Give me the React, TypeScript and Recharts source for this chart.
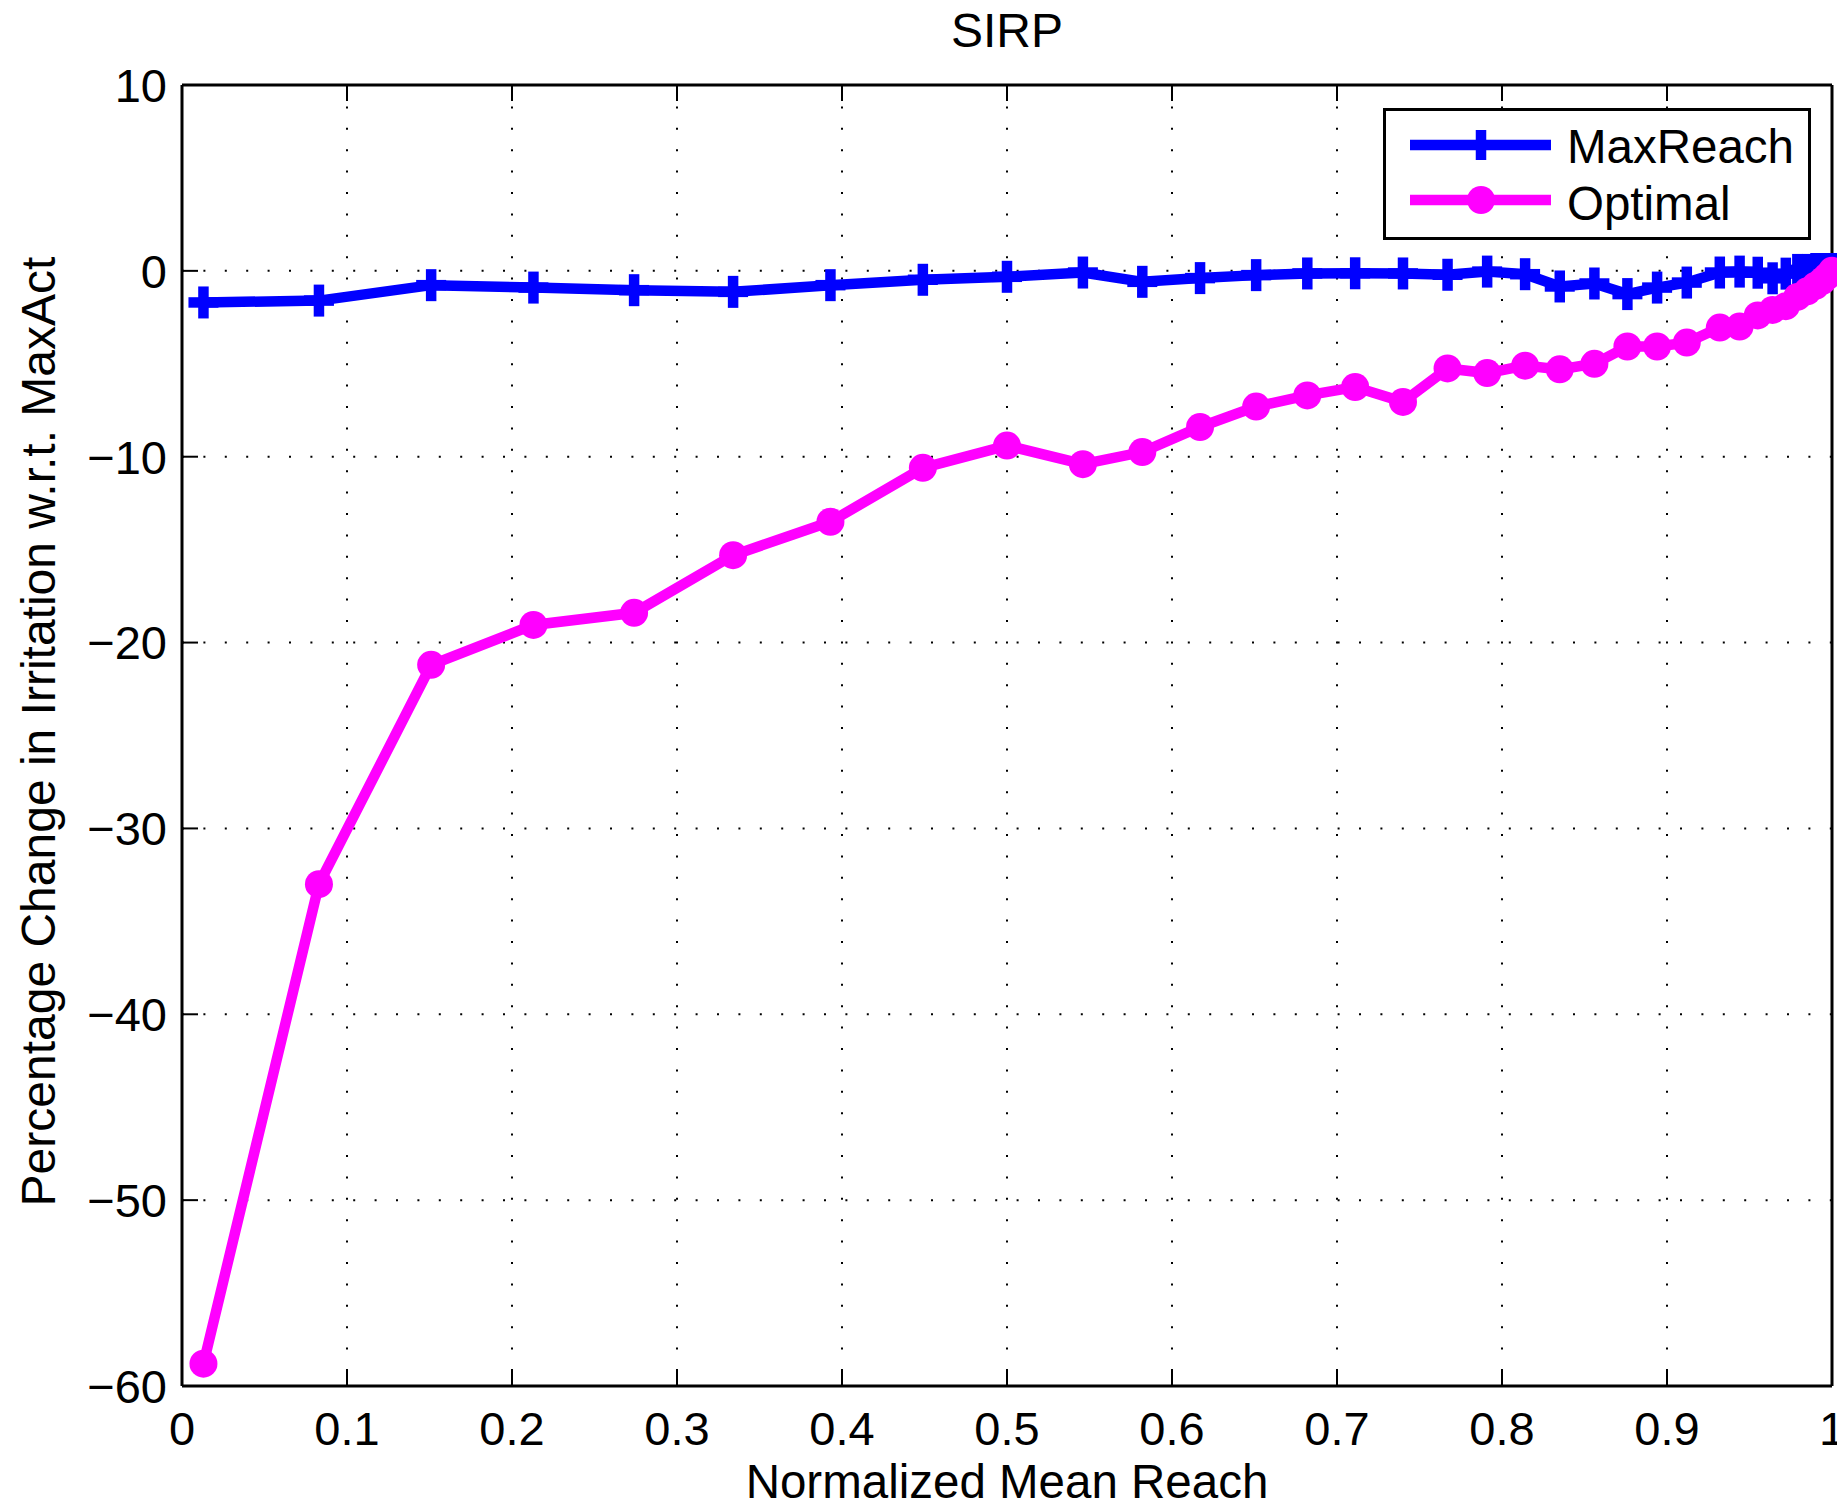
import React from 'react';
import { LineChart, Line, XAxis, YAxis, CartesianGrid, Legend } from 'recharts';

// normalized mean reach (shared by both series)
const reach = [
  0.013, 0.083, 0.151, 0.213, 0.274, 0.334, 0.393, 0.449, 0.5, 0.546,
  0.582, 0.617, 0.651, 0.682, 0.711, 0.74, 0.767, 0.791, 0.814, 0.835,
  0.856, 0.876, 0.894, 0.912, 0.932, 0.944, 0.955, 0.964, 0.972, 0.979,
  0.985, 0.99, 0.994, 0.997, 1.0,
];

const maxReach = [
  -1.7, -1.6, -0.77, -0.9, -1.04, -1.13, -0.77, -0.48, -0.32, -0.09,
  -0.59, -0.39, -0.23, -0.14, -0.13, -0.14, -0.21, -0.04, -0.18, -0.84,
  -0.68, -1.25, -0.9, -0.63, -0.09, -0.04, -0.1, -0.4, -0.15, 0.05,
  0.05, 0.1, 0.1, 0.1, 0.1,
];

const optimal = [
  -58.8, -33.0, -21.2, -19.05, -18.4, -15.3, -13.5, -10.6, -9.4, -10.4,
  -9.75, -8.4, -7.3, -6.7, -6.25, -7.05, -5.25, -5.5, -5.1, -5.3,
  -5.0, -4.07, -4.07, -3.86, -3.05, -3.0, -2.4, -2.1, -1.9, -1.4,
  -1.1, -0.8, -0.55, -0.3, 0.0,
];

const xTicks = [0, 0.1, 0.2, 0.3, 0.4, 0.5, 0.6, 0.7, 0.8, 0.9, 1];
const yTicks = [-60, -50, -40, -30, -20, -10, 0, 10];

const rows = reach.map((x, i) => ({ x, maxReach: maxReach[i], optimal: optimal[i] }));

const FONT = '"Liberation Sans", Arial, Helvetica, sans-serif';
const BLUE = '#0000ff';
const MAGENTA = '#ff00ff';
const fmt = (v: number) => String(v).replace('-', '\u2212');

const BottomTick = (props: any) => {
  const { x, y, payload } = props;
  return (
    <g>
      <line x1={x} x2={x} y1={y} y2={y - 16} stroke="#000" strokeWidth={2} />
      <text x={x} y={y + 59} textAnchor="middle" fontSize={47} fontFamily={FONT} fill="#000">
        {fmt(payload.value)}
      </text>
    </g>
  );
};

const TopTick = (props: any) => {
  const { x, y } = props;
  return <line x1={x} x2={x} y1={y} y2={y + 16} stroke="#000" strokeWidth={2} />;
};

const LeftTick = (props: any) => {
  const { x, y, payload } = props;
  return (
    <g>
      <line x1={x} x2={x + 16} y1={y} y2={y} stroke="#000" strokeWidth={2} />
      <text x={x - 15} y={y} dy="0.36em" textAnchor="end" fontSize={47} fontFamily={FONT} fill="#000">
        {fmt(payload.value)}
      </text>
    </g>
  );
};

const RightTick = (props: any) => {
  const { x, y } = props;
  return <line x1={x} x2={x - 16} y1={y} y2={y} stroke="#000" strokeWidth={2} />;
};

const PlusDot = (props: any) => {
  const { cx, cy, index } = props;
  if (cx == null || cy == null) return <g key={`p-${index}`} />;
  return (
    <g key={`p-${index}`}>
      <line x1={cx - 15} x2={cx + 15} y1={cy} y2={cy} stroke={BLUE} strokeWidth={10.5} />
      <line x1={cx} x2={cx} y1={cy - 16} y2={cy + 16} stroke={BLUE} strokeWidth={10.5} />
    </g>
  );
};

const LegendBox = () => (
  <svg width={428} height={132} style={{ display: 'block' }}>
    <rect x={1.5} y={1.5} width={425} height={129} fill="#fff" stroke="#000" strokeWidth={3} />
    <line x1={27} x2={168} y1={37} y2={37} stroke={BLUE} strokeWidth={10.5} />
    <line x1={98} x2={98} y1={22} y2={52} stroke={BLUE} strokeWidth={10.5} />
    <text x={184} y={55} fontSize={47.5} fontFamily={FONT} fill="#000">MaxReach</text>
    <line x1={27} x2={168} y1={92} y2={92} stroke={MAGENTA} strokeWidth={10.5} />
    <circle cx={98} cy={92} r={14} fill={MAGENTA} />
    <text x={184} y={112} fontSize={47.5} fontFamily={FONT} fill="#000">Optimal</text>
  </svg>
);

export default function App() {
  const axisLine = { stroke: '#000', strokeWidth: 3 };
  return (
    <div style={{ position: 'relative', width: 1845, height: 1509, margin: -8, background: '#fff' }}>
      <LineChart
        width={1845}
        height={1509}
        data={rows}
        margin={{ top: 84, right: 12, bottom: 122, left: 181 }}
        style={{ fontFamily: FONT }}
      >
        <CartesianGrid stroke="#000" strokeWidth={2} strokeDasharray="2 19.4" />
        <XAxis
          dataKey="x"
          type="number"
          domain={[0, 1]}
          ticks={xTicks}
          interval={0}
          height={1}
          tickSize={0}
          tickMargin={0}
          axisLine={axisLine}
          tickLine={false}
          tick={BottomTick}
          label={{
            content: (p: any) => (
              <text
                x={p.viewBox.x + p.viewBox.width / 2}
                y={p.viewBox.y + 112}
                textAnchor="middle"
                fontSize={47.5}
                fontFamily={FONT}
                fill="#000"
              >
                Normalized Mean Reach
              </text>
            ),
          }}
        />
        <XAxis
          xAxisId="top"
          orientation="top"
          dataKey="x"
          type="number"
          domain={[0, 1]}
          ticks={xTicks}
          interval={0}
          height={1}
          tickSize={0}
          tickMargin={0}
          axisLine={axisLine}
          tickLine={false}
          tick={TopTick}
          label={{
            content: (p: any) => (
              <text
                x={p.viewBox.x + p.viewBox.width / 2}
                y={p.viewBox.y - 37}
                textAnchor="middle"
                fontSize={48}
                fontFamily={FONT}
                fill="#000"
              >
                SIRP
              </text>
            ),
          }}
        />
        <YAxis
          type="number"
          domain={[-60, 10]}
          ticks={yTicks}
          interval={0}
          width={1}
          tickSize={0}
          tickMargin={0}
          axisLine={axisLine}
          tickLine={false}
          tick={LeftTick}
          label={{
            content: (p: any) => {
              const cx = p.viewBox.x - 126;
              const cy = p.viewBox.y + p.viewBox.height / 2 - 4;
              return (
                <text
                  x={cx}
                  y={cy}
                  transform={`rotate(-90, ${cx}, ${cy})`}
                  textAnchor="middle"
                  fontSize={48}
                  fontFamily={FONT}
                  fill="#000"
                >
                  Percentage Change in Irritation w.r.t. MaxAct
                </text>
              );
            },
          }}
        />
        <YAxis
          yAxisId="right"
          orientation="right"
          type="number"
          domain={[-60, 10]}
          ticks={yTicks}
          interval={0}
          width={1}
          tickSize={0}
          tickMargin={0}
          axisLine={axisLine}
          tickLine={false}
          tick={RightTick}
        />
        <Line
          dataKey="maxReach"
          name="MaxReach"
          stroke={BLUE}
          strokeWidth={10.5}
          dot={PlusDot}
          activeDot={false}
          isAnimationActive={false}
        />
        <Line
          dataKey="optimal"
          name="Optimal"
          stroke={MAGENTA}
          strokeWidth={10.5}
          dot={{ r: 14, fill: MAGENTA, stroke: 'none' }}
          activeDot={false}
          isAnimationActive={false}
        />
        <Legend
          layout="horizontal"
          verticalAlign="middle"
          content={() => <LegendBox />}
          wrapperStyle={{ left: 1383, top: 108, width: 428, height: 132 }}
        />
      </LineChart>
    </div>
  );
}
